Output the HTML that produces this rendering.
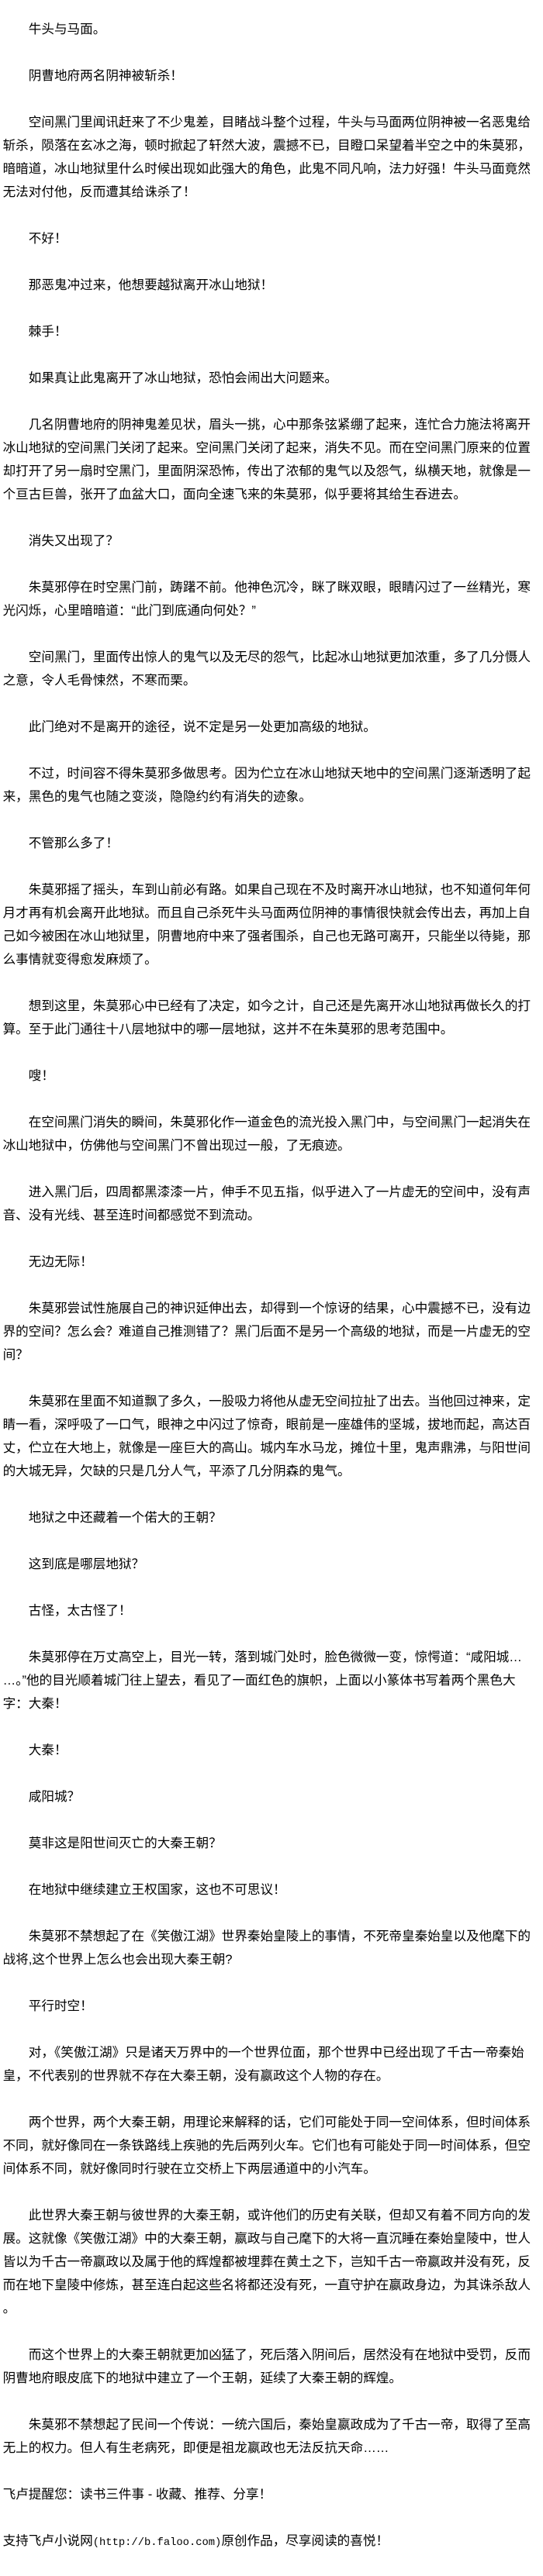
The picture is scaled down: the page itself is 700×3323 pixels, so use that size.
<!DOCTYPE html>
<html><head><meta charset="utf-8">
<style>
html,body{margin:0;padding:0;background:#fff;}
body{width:700px;height:3290px;overflow:hidden;}
#c{position:absolute;left:3.6px;top:-7px;color:#000;
font-family:"Liberation Sans","Noto Sans CJK SC","WenQuanYi Zen Hei",sans-serif;
font-size:16.6px;line-height:30px;}
#c p{margin:0 0 30px 0;padding:0;}
#c div{height:30px;white-space:nowrap;}
.m{font-family:"Liberation Mono",monospace;font-size:13.8px;}
</style></head><body><div id="c">
<p><div>　　牛头与马面。</div></p>
<p><div>　　阴曹地府两名阴神被斩杀！</div></p>
<p><div>　　空间黑门里闻讯赶来了不少鬼差，目睹战斗整个过程，牛头与马面两位阴神被一名恶鬼给</div>
<div>斩杀，陨落在玄冰之海，顿时掀起了轩然大波，震撼不已，目瞪口呆望着半空之中的朱莫邪，</div>
<div>暗暗道，冰山地狱里什么时候出现如此强大的角色，此鬼不同凡响，法力好强！牛头马面竟然</div>
<div>无法对付他，反而遭其给诛杀了！</div></p>
<p><div>　　不好！</div></p>
<p><div>　　那恶鬼冲过来，他想要越狱离开冰山地狱！</div></p>
<p><div>　　棘手！</div></p>
<p><div>　　如果真让此鬼离开了冰山地狱，恐怕会闹出大问题来。</div></p>
<p><div>　　几名阴曹地府的阴神鬼差见状，眉头一挑，心中那条弦紧绷了起来，连忙合力施法将离开</div>
<div>冰山地狱的空间黑门关闭了起来。空间黑门关闭了起来，消失不见。而在空间黑门原来的位置</div>
<div>却打开了另一扇时空黑门，里面阴深恐怖，传出了浓郁的鬼气以及怨气，纵横天地，就像是一</div>
<div>个亘古巨兽，张开了血盆大口，面向全速飞来的朱莫邪，似乎要将其给生吞进去。</div></p>
<p><div>　　消失又出现了？</div></p>
<p><div>　　朱莫邪停在时空黑门前，踌躇不前。他神色沉冷，眯了眯双眼，眼睛闪过了一丝精光，寒</div>
<div>光闪烁，心里暗暗道：“此门到底通向何处？”</div></p>
<p><div>　　空间黑门，里面传出惊人的鬼气以及无尽的怨气，比起冰山地狱更加浓重，多了几分慑人</div>
<div>之意，令人毛骨悚然，不寒而栗。</div></p>
<p><div>　　此门绝对不是离开的途径，说不定是另一处更加高级的地狱。</div></p>
<p><div>　　不过，时间容不得朱莫邪多做思考。因为伫立在冰山地狱天地中的空间黑门逐渐透明了起</div>
<div>来，黑色的鬼气也随之变淡，隐隐约约有消失的迹象。</div></p>
<p><div>　　不管那么多了！</div></p>
<p><div>　　朱莫邪摇了摇头，车到山前必有路。如果自己现在不及时离开冰山地狱，也不知道何年何</div>
<div>月才再有机会离开此地狱。而且自己杀死牛头马面两位阴神的事情很快就会传出去，再加上自</div>
<div>己如今被困在冰山地狱里，阴曹地府中来了强者围杀，自己也无路可离开，只能坐以待毙，那</div>
<div>么事情就变得愈发麻烦了。</div></p>
<p><div>　　想到这里，朱莫邪心中已经有了决定，如今之计，自己还是先离开冰山地狱再做长久的打</div>
<div>算。至于此门通往十八层地狱中的哪一层地狱，这并不在朱莫邪的思考范围中。</div></p>
<p><div>　　嗖！</div></p>
<p><div>　　在空间黑门消失的瞬间，朱莫邪化作一道金色的流光投入黑门中，与空间黑门一起消失在</div>
<div>冰山地狱中，仿佛他与空间黑门不曾出现过一般，了无痕迹。</div></p>
<p><div>　　进入黑门后，四周都黑漆漆一片，伸手不见五指，似乎进入了一片虚无的空间中，没有声</div>
<div>音、没有光线、甚至连时间都感觉不到流动。</div></p>
<p><div>　　无边无际！</div></p>
<p><div>　　朱莫邪尝试性施展自己的神识延伸出去，却得到一个惊讶的结果，心中震撼不已，没有边</div>
<div>界的空间？怎么会？难道自己推测错了？黑门后面不是另一个高级的地狱，而是一片虚无的空</div>
<div>间？</div></p>
<p><div>　　朱莫邪在里面不知道飘了多久，一股吸力将他从虚无空间拉扯了出去。当他回过神来，定</div>
<div>睛一看，深呼吸了一口气，眼神之中闪过了惊奇，眼前是一座雄伟的坚城，拔地而起，高达百</div>
<div>丈，伫立在大地上，就像是一座巨大的高山。城内车水马龙，摊位十里，鬼声鼎沸，与阳世间</div>
<div>的大城无异，欠缺的只是几分人气，平添了几分阴森的鬼气。</div></p>
<p><div>　　地狱之中还藏着一个偌大的王朝？</div></p>
<p><div>　　这到底是哪层地狱？</div></p>
<p><div>　　古怪，太古怪了！</div></p>
<p><div>　　朱莫邪停在万丈高空上，目光一转，落到城门处时，脸色微微一变，惊愕道：“咸阳城…</div>
<div>…。”他的目光顺着城门往上望去，看见了一面红色的旗帜，上面以小篆体书写着两个黑色大</div>
<div>字：大秦！</div></p>
<p><div>　　大秦！</div></p>
<p><div>　　咸阳城？</div></p>
<p><div>　　莫非这是阳世间灭亡的大秦王朝？</div></p>
<p><div>　　在地狱中继续建立王权国家，这也不可思议！</div></p>
<p><div>　　朱莫邪不禁想起了在《笑傲江湖》世界秦始皇陵上的事情，不死帝皇秦始皇以及他麾下的</div>
<div>战将,这个世界上怎么也会出现大秦王朝?</div></p>
<p><div>　　平行时空！</div></p>
<p><div>　　对，《笑傲江湖》只是诸天万界中的一个世界位面，那个世界中已经出现了千古一帝秦始</div>
<div>皇，不代表别的世界就不存在大秦王朝，没有嬴政这个人物的存在。</div></p>
<p><div>　　两个世界，两个大秦王朝，用理论来解释的话，它们可能处于同一空间体系，但时间体系</div>
<div>不同，就好像同在一条铁路线上疾驰的先后两列火车。它们也有可能处于同一时间体系，但空</div>
<div>间体系不同，就好像同时行驶在立交桥上下两层通道中的小汽车。</div></p>
<p><div>　　此世界大秦王朝与彼世界的大秦王朝，或许他们的历史有关联，但却又有着不同方向的发</div>
<div>展。这就像《笑傲江湖》中的大秦王朝，嬴政与自己麾下的大将一直沉睡在秦始皇陵中，世人</div>
<div>皆以为千古一帝嬴政以及属于他的辉煌都被埋葬在黄土之下，岂知千古一帝嬴政并没有死，反</div>
<div>而在地下皇陵中修炼，甚至连白起这些名将都还没有死，一直守护在嬴政身边，为其诛杀敌人</div>
<div>。</div></p>
<p><div>　　而这个世界上的大秦王朝就更加凶猛了，死后落入阴间后，居然没有在地狱中受罚，反而</div>
<div>阴曹地府眼皮底下的地狱中建立了一个王朝，延续了大秦王朝的辉煌。</div></p>
<p><div>　　朱莫邪不禁想起了民间一个传说：一统六国后，秦始皇嬴政成为了千古一帝，取得了至高</div>
<div>无上的权力。但人有生老病死，即便是祖龙嬴政也无法反抗天命……</div></p>
<p><div>飞卢提醒您：读书三件事 - 收藏、推荐、分享！</div></p>
<p><div>支持飞卢小说网<span class="m">(http://b.faloo.com)</span>原创作品，尽享阅读的喜悦！</div></p>
</div></body></html>
